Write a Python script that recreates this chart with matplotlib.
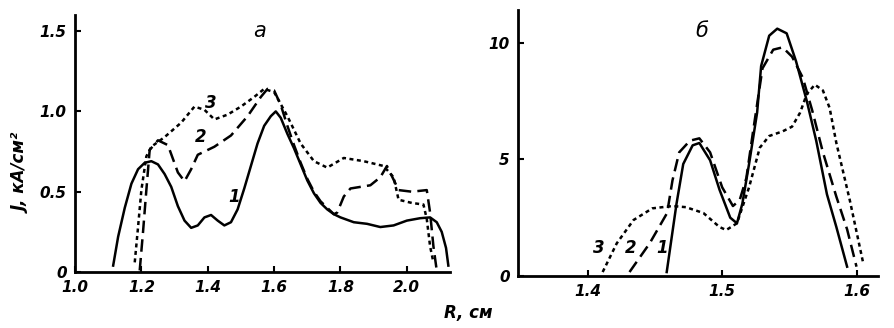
import matplotlib.pyplot as plt

# panel a
r1a = [1.115, 1.13, 1.15, 1.17, 1.19, 1.21, 1.23, 1.25, 1.27, 1.29, 1.31, 1.33, 1.35, 1.37, 1.39, 1.41,
       1.43, 1.45, 1.47, 1.49, 1.51, 1.53, 1.55, 1.57, 1.59, 1.605, 1.62, 1.64, 1.66, 1.68, 1.70, 1.72,
       1.74, 1.76, 1.78, 1.80, 1.84, 1.88, 1.92, 1.96, 2.00, 2.04, 2.07, 2.09, 2.105, 2.118, 2.125]
j1a = [0.04, 0.22, 0.40, 0.55, 0.64, 0.68, 0.69, 0.67, 0.61, 0.53, 0.41, 0.32, 0.275, 0.29, 0.34, 0.355,
       0.32, 0.29, 0.31, 0.39, 0.52, 0.66, 0.80, 0.91, 0.97, 1.00, 0.96, 0.86, 0.77, 0.67, 0.57, 0.49,
       0.43, 0.39, 0.36, 0.34, 0.31, 0.30, 0.28, 0.29, 0.32, 0.335, 0.34, 0.31, 0.25, 0.15, 0.04]

r2a = [1.195, 1.205, 1.215, 1.225, 1.25, 1.28, 1.31, 1.33, 1.35, 1.37, 1.42, 1.47, 1.52, 1.56, 1.58,
       1.60, 1.62, 1.64, 1.66, 1.68, 1.70, 1.72, 1.74, 1.76, 1.78, 1.79, 1.81, 1.83, 1.89, 1.92, 1.94,
       1.96, 1.975, 2.015, 2.06, 2.07, 2.08, 2.09]
j2a = [0.01, 0.25, 0.51, 0.76, 0.82, 0.79, 0.62, 0.565, 0.64, 0.73, 0.78, 0.85, 0.97, 1.09, 1.14,
       1.13, 1.04, 0.91, 0.79, 0.68, 0.58, 0.50, 0.44, 0.40, 0.36, 0.37, 0.47, 0.52, 0.54, 0.59, 0.66,
       0.575, 0.51, 0.50, 0.51, 0.37, 0.16, 0.01]

r3a = [1.18, 1.19, 1.20, 1.215, 1.23, 1.27, 1.32, 1.36, 1.39, 1.42, 1.46, 1.50, 1.54, 1.57, 1.60, 1.64,
       1.68, 1.72, 1.76, 1.81, 1.87, 1.93, 1.96, 1.975, 2.015, 2.05, 2.06, 2.07, 2.08]
j3a = [0.06, 0.28, 0.51, 0.72, 0.78, 0.84, 0.93, 1.03, 1.01, 0.95, 0.98, 1.03, 1.09, 1.14, 1.12, 0.97,
       0.80, 0.69, 0.65, 0.71, 0.69, 0.66, 0.59, 0.45, 0.43, 0.42, 0.33, 0.16, 0.06]

# panel б
r1b = [1.4587, 1.466, 1.471, 1.478, 1.483, 1.491, 1.498, 1.506, 1.511, 1.515, 1.52, 1.526, 1.529, 1.535,
       1.541, 1.548, 1.555, 1.563, 1.57, 1.578, 1.585, 1.593]
j1b = [0.17, 3.1, 4.8, 5.6, 5.7, 4.96, 3.7, 2.5, 2.26, 3.1, 4.8, 7.0, 9.0, 10.3,
       10.6, 10.4, 9.2, 7.5, 5.8, 3.5, 2.1, 0.4]

r2b = [1.431, 1.446, 1.459, 1.463, 1.468, 1.476, 1.483, 1.491, 1.50, 1.508, 1.513, 1.518, 1.523, 1.53,
       1.538, 1.545, 1.552, 1.56, 1.567, 1.575, 1.585, 1.593, 1.60]
j2b = [0.17, 1.4, 2.7, 4.1, 5.3, 5.8, 5.9, 5.3, 3.8, 3.0, 3.25, 4.2, 6.2, 8.9,
       9.7, 9.8, 9.4, 8.5, 7.1, 5.3, 3.4, 2.0, 0.4]

r3b = [1.411, 1.4215, 1.434, 1.448, 1.463, 1.473, 1.486, 1.498, 1.503, 1.511, 1.52, 1.528, 1.535, 1.545,
       1.552, 1.558, 1.563, 1.569, 1.575, 1.58, 1.585, 1.595, 1.605]
j3b = [0.17, 1.4, 2.4, 2.9, 3.0, 2.95, 2.7, 2.1, 1.97, 2.26, 3.8, 5.5, 6.0, 6.2,
       6.4, 7.0, 7.8, 8.2, 7.95, 7.2, 5.7, 3.25, 0.55]

xticks_a = [1.0, 1.2, 1.4, 1.6, 1.8, 2.0]
yticks_a = [0, 0.5, 1.0, 1.5]
xticks_b = [1.4, 1.5, 1.6]
yticks_b = [0, 5, 10]

fig = plt.figure(figsize=(8.95, 3.28), dpi=100)
axa = fig.add_axes([0.0838, 0.1707, 0.419, 0.7835])
axb = fig.add_axes([0.5788, 0.1585, 0.4022, 0.811])

solid = dict(color='black', lw=1.8, linestyle='-')
dashed = dict(color='black', lw=1.8, linestyle=(0, (5, 2.5)))
dotted = dict(color='black', lw=1.8, linestyle=(0, (1.6, 1.4)))

axa.plot(r1a, j1a, **solid)
axa.plot(r2a, j2a, **dashed)
axa.plot(r3a, j3a, **dotted)
axb.plot(r1b, j1b, **solid)
axb.plot(r2b, j2b, **dashed)
axb.plot(r3b, j3b, **dotted)

axa.set_xlim(1.0, 2.13)
axa.set_ylim(0, 1.6)
axb.set_xlim(1.348, 1.616)
axb.set_ylim(0, 11.4)

tick_font = dict(fontsize=11, fontstyle='italic', fontweight='bold')
for ax, xt, yt in [(axa, xticks_a, yticks_a), (axb, xticks_b, yticks_b)]:
    for s in ['top', 'right']:
        ax.spines[s].set_visible(False)
    for s in ['left', 'bottom']:
        ax.spines[s].set_linewidth(2)
    ax.set_xticks(xt)
    ax.set_yticks(yt)
    ax.set_xticklabels([('%g' % v) if v != 0 else '0' for v in xt], **tick_font)
    ax.tick_params(direction='in', length=4, width=1.5, pad=6)
axa.set_xticklabels(['1.0', '1.2', '1.4', '1.6', '1.8', '2.0'], **tick_font)
axa.set_yticklabels(['0', '0.5', '1.0', '1.5'], **tick_font)
axb.set_xticklabels(['1.4', '1.5', '1.6'], **tick_font)
axb.set_yticklabels(['0', '5', '10'], **tick_font)

lab = dict(fontsize=12, fontstyle='italic', fontweight='bold', ha='center', va='center')
axa.text(1.555, 1.5, 'а', fontsize=15, fontstyle='italic', ha='center', va='center')
axb.text(1.485, 10.5, 'б', fontsize=15, fontstyle='italic', ha='center', va='center')
axa.text(1.48, 0.47, '1', **lab)
axa.text(1.38, 0.84, '2', **lab)
axa.text(1.41, 1.05, '3', **lab)
axb.text(1.408, 1.2, '3', **lab)
axb.text(1.432, 1.2, '2', **lab)
axb.text(1.455, 1.2, '1', **lab)

fig.text(0.024, 0.47, 'J, кА/см²', rotation=90, fontsize=12, fontstyle='italic', fontweight='bold',
         ha='center', va='center')
fig.text(0.523, 0.045, 'R, см', fontsize=12, fontstyle='italic', fontweight='bold',
         ha='center', va='center')

plt.savefig('out.png', dpi=100)
